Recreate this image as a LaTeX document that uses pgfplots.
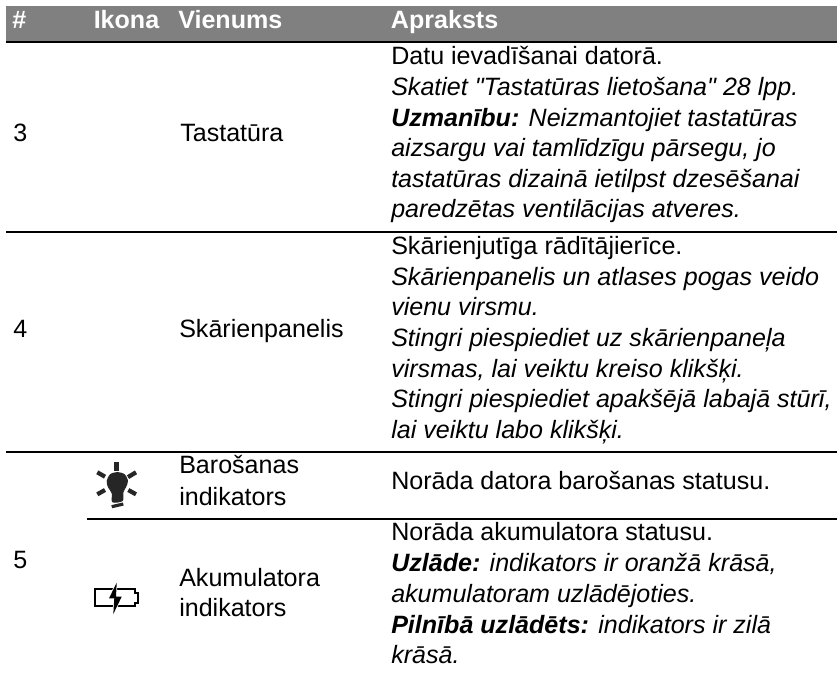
\documentclass[border=0pt]{standalone}
\usepackage{fontspec}
\setmainfont[Ligatures=TeXOff]{Liberation Sans}
\usepackage{pgfplots}
\pgfplotsset{compat=1.18}
\definecolor{hdr}{HTML}{808080}
\newcommand{\fs}{\fontsize{18.8pt}{22pt}\selectfont}
\newcommand{\T}[3]{\node[anchor=base west,inner sep=0pt,font=\fs,text=black] at (axis cs:#1,#2) {#3};}
\newcommand{\HD}[2]{\node[anchor=base west,inner sep=0pt,font=\fs\bfseries,text=white] at (axis cs:#1,28.5) {#2};}
\newcommand{\BI}[1]{{\bfseries #1}}
\begin{document}
\begin{tikzpicture}
\useasboundingbox (0,0) rectangle (627.75pt,507pt);
\begin{axis}[
  at={(0,0)},anchor=south west,
  width=627.75pt,height=507pt,scale only axis,
  xmin=0,xmax=837,ymin=0,ymax=676,y dir=reverse,
  hide axis,clip=false]
% header band
\addplot[fill=hdr,draw=none] coordinates {(6,6) (837,6) (837,41) (6,41)} -- cycle;
% rules
\addplot[black,line width=1.5pt] coordinates {(6,42) (837,42)};
\addplot[black,line width=1.5pt] coordinates {(6,231.7) (837,231.7)};
\addplot[black,line width=1.5pt] coordinates {(6,452) (837,452)};
\addplot[black,line width=1.5pt] coordinates {(87,519) (837,519)};
% bulb icon
\addplot[fill=black!85,draw=none,smooth cycle,tension=0.5] coordinates {(117.4,472) (124.7,474.3) (128,481) (126,487.3) (123.4,492.3) (122.7,501) (112.4,502.3) (111.7,493.3) (108,487.3) (106.7,481) (110,474.3)};
\addplot[black!85,line width=3.4pt] coordinates {(116.7,462.3) (116.7,470.5)};
\addplot[black!85,line width=3.2pt] coordinates {(97.3,472.3) (105,476.7)};
\addplot[black!85,line width=3.2pt] coordinates {(136,472.3) (128,477.1)};
\addplot[black!85,line width=3.2pt] coordinates {(97.3,494.3) (105,490)};
\addplot[black!85,line width=3.2pt] coordinates {(136,494.3) (128.3,490)};
\addplot[black!85,line width=2.4pt] coordinates {(111.7,506.7) (123.3,504)};
% battery icon
\addplot[black,line width=1.3pt] coordinates {(95,589.3) (135,589.3) (135,592.7) (138.3,592.7) (138.3,602.7) (135,602.7) (135,606) (95,606)} -- cycle;
\addplot[fill=black,draw=white,line width=1.2pt] coordinates {(116.7,582.7) (109,598.3) (114.3,598.3) (113.3,614) (121.7,596.7) (116,596.7)} -- cycle;
\addplot[fill=black,draw=none] coordinates {(116.7,582.7) (109,598.3) (114.3,598.3) (113.3,614) (121.7,596.7) (116,596.7)} -- cycle;
% header
\HD{12}{\#}
\HD{93.5}{Ikona}
\HD{178}{Vienums}
\HD{390.7}{Apraksts}
% row 3
\T{13}{141}{3}
\T{180}{141}{Tastatūra}
\T{391}{64}{Datu ievadīšanai datorā.}
\T{391}{95}{\itshape Skatiet "Tastatūras lietošana" 28 lpp.}
\T{391}{126}{\itshape\BI{Uzmanību:} Neizmantojiet tastatūras}
\T{391}{156.6}{\itshape aizsargu vai tamlīdzīgu pārsegu, jo}
\T{391}{187}{\itshape tastatūras dizainā ietilpst dzesēšanai}
\T{391}{217.5}{\itshape paredzētas ventilācijas atveres.}
% row 4
\T{13}{337}{4}
\T{179}{337}{Skārienpanelis}
\T{391}{254.5}{Skārienjutīga rādītājierīce.}
\T{391}{285}{\itshape Skārienpanelis un atlases pogas veido}
\T{391}{315.7}{\itshape vienu virsmu.}
\T{391}{346.7}{\itshape Stingri piespiediet uz skārienpaneļa}
\T{391}{377}{\itshape virsmas, lai veiktu kreiso klikšķi.}
\T{391}{407.7}{\itshape Stingri piespiediet apakšējā labajā stūrī,}
\T{391}{438.3}{\itshape lai veiktu labo klikšķi.}
% row 5
\T{13}{568}{5}
\T{179}{473.3}{Barošanas}
\T{179}{505}{indikators}
\T{179}{586.7}{Akumulatora}
\T{179}{616.7}{indikators}
\T{391}{489}{Norāda datora barošanas statusu.}
\T{391}{540.7}{Norāda akumulatora statusu.}
\T{391}{571.7}{\itshape\BI{Uzlāde:} indikators ir oranžā krāsā,}
\T{391}{602}{\itshape akumulatoram uzlādējoties.}
\T{391}{633}{\itshape\BI{Pilnībā uzlādēts:} indikators ir zilā}
\T{391}{663}{\itshape krāsā.}
\end{axis}
\end{tikzpicture}
\end{document}
